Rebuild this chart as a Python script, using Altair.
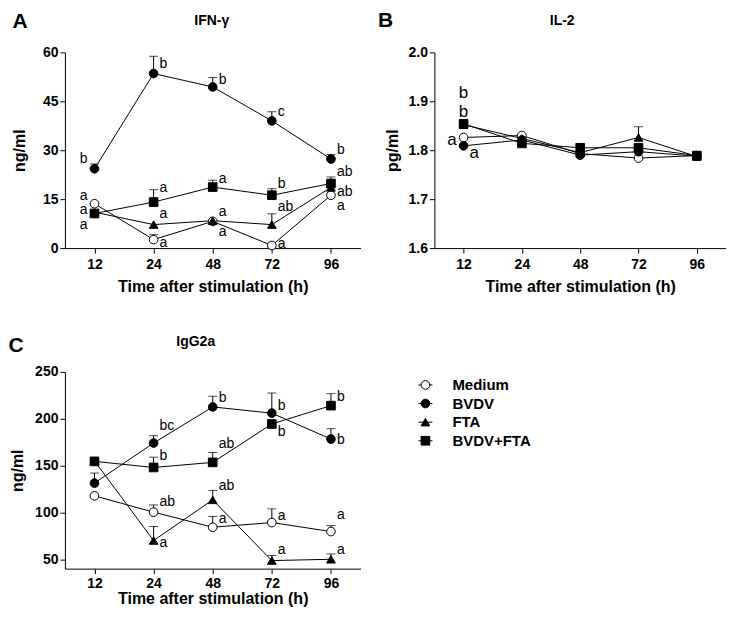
import altair as alt
import pandas as pd

FONT = "Liberation Sans"

TIMES = ["12", "24", "48", "72", "96"]
GROUPS = ["Medium", "BVDV", "FTA", "BVDV+FTA"]

# ---- Panel A: IFN-gamma (ng/ml) ----
ifn_medium = [13.6, 2.6, 8.2, 0.8, 16.2]
ifn_bvdv = [24.3, 53.5, 49.4, 39.0, 27.3]
ifn_fta = [11.0, 7.2, 8.4, 7.2, 18.6]
ifn_combo = [10.6, 14.1, 18.7, 16.2, 19.8]
ifn_medium_up = [None, 4.1, None, None, None]
ifn_bvdv_up = [25.8, 58.8, 52.3, 41.8, 28.7]
ifn_fta_up = [None, None, None, 10.5, None]
ifn_combo_up = [None, 17.9, 20.8, 18.2, 21.8]
ifn_labels = [
    ("12", 27.2, "b", "L"), ("12", 16.1, "a", "L"), ("12", 11.6, "a", "L"), ("12", 7.2, "a", "L"),
    ("24", 56.4, "b", "R"), ("24", 18.5, "a", "R"), ("24", 10.3, "a", "R"), ("24", 1.5, "a", "R"),
    ("48", 51.6, "b", "R"), ("48", 21.3, "a", "R"), ("48", 11.0, "a", "R"), ("48", 4.8, "a", "R"),
    ("72", 41.7, "c", "R"), ("72", 19.5, "b", "R"), ("72", 12.6, "ab", "R"), ("72", 1.3, "a", "R"),
    ("96", 30.2, "b", "R"), ("96", 23.2, "ab", "R"), ("96", 17.3, "ab", "R"), ("96", 12.9, "a", "R"),
]
ifn_ticks = [0, 15, 30, 45, 60]

# ---- Panel B: IL-2 (pg/ml) ----
il2_medium = [1.826, 1.830, 1.793, 1.784, 1.789]
il2_bvdv = [1.809, 1.821, 1.790, 1.797, 1.788]
il2_fta = [1.852, 1.824, 1.795, 1.826, 1.787]
il2_combo = [1.854, 1.814, 1.805, 1.805, 1.789]
il2_medium_up = [None, None, None, None, None]
il2_bvdv_up = [None, None, None, None, None]
il2_fta_up = [None, None, None, 1.848, None]
il2_combo_up = [None, None, None, None, None]
il2_labels = [
    ("12", 1.916, "b", "C"), ("12", 1.879, "b", "C"),
    ("12", 1.821, "a", "L"), ("12", 1.794, "a", "R"),
]
il2_ticks = [1.6, 1.7, 1.8, 1.9, 2.0]

# ---- Panel C: IgG2a (ng/ml) ----
igg_medium = [117.7, 100.3, 84.2, 89.2, 79.6]
igg_bvdv = [131.3, 174.1, 212.6, 206.0, 178.3]
igg_fta = [155.0, 70.0, 113.4, 48.6, 50.0]
igg_combo = [154.5, 148.0, 153.4, 194.4, 214.0]
igg_medium_up = [None, 108.0, 95.7, 103.8, 86.0]
igg_bvdv_up = [142.0, 181.9, 224.0, 227.5, 189.4]
igg_fta_up = [None, 85.0, 123.5, 54.0, 55.7]
igg_combo_up = [None, 159.0, 164.0, None, 226.8]
igg_labels = [
    ("24", 191.9, "bc", "R"), ("24", 159.8, "b", "R"), ("24", 110.6, "ab", "R"), ("24", 67.8, "a", "R"),
    ("48", 222.2, "b", "R"), ("48", 173.3, "ab", "R"), ("48", 128.4, "ab", "R"), ("48", 92.8, "a", "R"),
    ("72", 214.0, "b", "R"), ("72", 185.5, "b", "R"), ("72", 96.7, "a", "R"), ("72", 60.0, "a", "R"),
    ("96", 223.3, "b", "R"), ("96", 177.6, "b", "R"), ("96", 97.4, "a", "R"), ("96", 60.0, "a", "R"),
]
igg_ticks = [50, 100, 150, 200, 250]


def series_frame(means, ups):
    rows = []
    for g, m, u in zip(GROUPS, means, ups):
        for t, v, e in zip(TIMES, m, u):
            rows.append({"time": t, "group": g, "mean": v, "err": e})
    return pd.DataFrame(rows)


def label_frame(labels):
    return pd.DataFrame(labels, columns=["time", "y", "text", "side"])


shape_enc = alt.Shape("group:N", scale=alt.Scale(domain=GROUPS, range=["circle", "circle", "triangle-up", "square"]), legend=None)
fill_enc = alt.Fill("group:N", scale=alt.Scale(domain=GROUPS, range=["white", "black", "black", "black"]), legend=None)


def panel(means, ups, labels, domain, ticks, fmt, ytitle, title, letter, letter_xy, title_xy,
          width, height, label_size, y_title_pad, x_label_pad, x_title_pad):
    df = series_frame(means, ups)
    ldf = label_frame(labels)
    x = alt.X("time:O", sort=TIMES,
              scale=alt.Scale(type="point", padding=0.5, domain=TIMES),
              axis=alt.Axis(title="Time after stimulation (h)", labelAngle=0,
                            labelPadding=x_label_pad, titlePadding=x_title_pad))
    y = alt.Y("mean:Q", scale=alt.Scale(domain=domain, nice=False, zero=False),
              axis=alt.Axis(title=ytitle, values=ticks, format=fmt, titlePadding=y_title_pad))
    base = alt.Chart(df)
    lines = base.mark_line(color="black", strokeWidth=1).encode(x=x, y=y, detail="group:N")
    errs = base.transform_filter("isValid(datum.err)").mark_rule(color="black", strokeWidth=1).encode(
        x=x, y="mean:Q", y2="err:Q")
    caps = base.transform_filter("isValid(datum.err)").mark_tick(color="black", size=9, thickness=1).encode(
        x=x, y="err:Q")
    pts = base.mark_point(filled=True, stroke="black", strokeWidth=1, opacity=1).encode(
        x=x, y=y, shape=shape_enc, fill=fill_enc,
        size=alt.Size("group:N", scale=alt.Scale(domain=GROUPS, range=[75, 75, 75, 80]), legend=None))
    lbase = alt.Chart(ldf)
    txt_kw = dict(font=FONT, fontSize=label_size, color="black", baseline="middle")
    lab_r = lbase.transform_filter("datum.side == 'R'").mark_text(align="left", dx=6, **txt_kw).encode(
        x="time:O", y="y:Q", text="text:N")
    lab_l = lbase.transform_filter("datum.side == 'L'").mark_text(align="right", dx=-7, **txt_kw).encode(
        x="time:O", y="y:Q", text="text:N")
    lab_c = lbase.transform_filter("datum.side == 'C'").mark_text(align="center", **txt_kw).encode(
        x="time:O", y="y:Q", text="text:N")
    heads = pd.DataFrame({"letter": [letter], "title": [title]})
    let = alt.Chart(heads).mark_text(
        font=FONT, fontSize=21, fontWeight="bold", color="black", align="center", baseline="middle").encode(
        text="letter:N", x=alt.value(letter_xy[0]), y=alt.value(letter_xy[1]))
    ttl = alt.Chart(heads).mark_text(
        font=FONT, fontSize=14, fontWeight="bold", color="black", align="center", baseline="middle").encode(
        text="title:N", x=alt.value(title_xy[0]), y=alt.value(title_xy[1]))
    return alt.layer(lines, errs, caps, pts, lab_r, lab_l, lab_c, let, ttl).properties(
        width=width, height=height)


pA = panel([ifn_medium, ifn_bvdv, ifn_fta, ifn_combo],
           [ifn_medium_up, ifn_bvdv_up, ifn_fta_up, ifn_combo_up],
           ifn_labels, [0, 60], ifn_ticks, "d", "ng/ml", "IFN-γ", "A", (-45, -30), (147, -31),
           296, 196, 14, 15, 4, 7)
pB = panel([il2_medium, il2_bvdv, il2_fta, il2_combo],
           [il2_medium_up, il2_bvdv_up, il2_fta_up, il2_combo_up],
           il2_labels, [1.6, 2.0], il2_ticks, ".1f", "pg/ml", "IL-2", "B", (-49, -31), (128, -31),
           292, 196, 17, 7, 4, 7)
pC = panel([igg_medium, igg_bvdv, igg_fta, igg_combo],
           [igg_medium_up, igg_bvdv_up, igg_fta_up, igg_combo_up],
           igg_labels, [40, 250], igg_ticks, "d", "ng/ml", "IgG2a", "C", (-49, -26), (131, -30),
           296, 197, 14, 9, 3, 0)

# ---- Legend panel ----
leg_df = pd.DataFrame({"group": GROUPS})
ly = alt.Y("group:N", sort=GROUPS, scale=alt.Scale(type="point", domain=GROUPS, padding=0.7), axis=None)
leg_base = alt.Chart(leg_df)
leg_line = leg_base.mark_rule(color="black", strokeWidth=1).encode(y=ly, x=alt.value(-16), x2=alt.value(-2))
leg_pts = leg_base.mark_point(filled=True, stroke="black", strokeWidth=1, opacity=1).encode(
    y=ly, x=alt.value(-9), shape=shape_enc, fill=fill_enc,
    size=alt.Size("group:N", scale=alt.Scale(domain=GROUPS, range=[45, 45, 45, 50]), legend=None))
leg_txt = leg_base.mark_text(font=FONT, fontSize=15, fontWeight="bold", color="black",
                             align="left", baseline="middle").encode(y=ly, x=alt.value(18), text="group:N")
legend = alt.layer(leg_line, leg_pts, leg_txt).properties(width=120, height=82)

chart = alt.concat(pA, pB, pC, legend, columns=2,
                   spacing={"row": 124, "column": 74}, bounds="flush").properties(
    padding={"left": 0, "top": 2, "right": 0, "bottom": 0}
).configure_axis(
    labelFont=FONT, labelFontWeight="bold", labelFontSize=14, labelColor="black",
    titleFont=FONT, titleFontWeight="bold", titleFontSize=16, titleColor="black",
    domainColor="black", tickColor="black", tickSize=5, grid=False, labelPadding=2,
).configure_view(stroke=None)

chart.save("out.html", embed_options={"renderer": "svg", "actions": False})
